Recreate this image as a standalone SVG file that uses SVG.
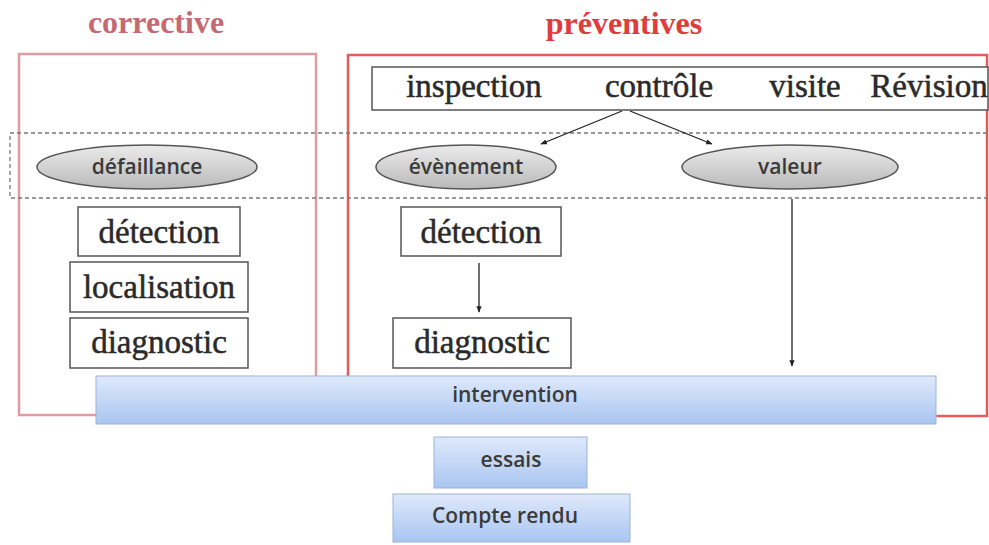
<svg xmlns="http://www.w3.org/2000/svg" width="989" height="545" viewBox="0 0 989 545">
<defs>
<linearGradient id="gEll" x1="0" y1="0" x2="0" y2="1"><stop offset="0" stop-color="#ebebeb"/><stop offset="1" stop-color="#b9b9b9"/></linearGradient>
<linearGradient id="gBlue" x1="0" y1="0" x2="0" y2="1"><stop offset="0" stop-color="#dfe9fb"/><stop offset="1" stop-color="#a9c5f1"/></linearGradient>
<marker id="arr" viewBox="0 0 10 10" refX="9" refY="5" markerWidth="5" markerHeight="5" orient="auto"><path d="M0,1 L10,5 L0,9 z" fill="#222"/></marker>
<style>
.ser{font-family:"Liberation Serif","DejaVu Serif",serif;font-size:33px;fill:#2a2a2a;stroke:#2a2a2a;stroke-width:0.5;text-anchor:middle}
.san{font-family:"Open Sans","Liberation Sans",sans-serif;font-size:21px;font-weight:600;fill:#3a3a3a;text-anchor:middle}
.box{fill:#fff;stroke:#555;stroke-width:1.5}
.ell{fill:url(#gEll);stroke:#555;stroke-width:1.5}
.blue{fill:url(#gBlue);stroke:#9bb3d6;stroke-width:1}
.con{stroke:#222;stroke-width:1.3;fill:none;marker-end:url(#arr)}
.hd{font-family:"Liberation Serif","DejaVu Serif",serif;font-size:32px;font-weight:bold;text-anchor:middle}
</style>
</defs>
<rect width="989" height="545" fill="#fff"/>
<g id="corrective">
<text class="hd" x="156" y="33" fill="#c56a72">corrective</text>
<rect x="19" y="54" width="297" height="361" fill="none" stroke="#e09aa0" stroke-width="2.5"/>
</g>
<g id="preventives">
<text class="hd" x="624" y="34" fill="#e03c3c">préventives</text>
<rect x="348" y="55" width="639" height="361" fill="none" stroke="#e85a5a" stroke-width="2.5"/>
</g>
<g id="methods">
<rect class="box" x="372" y="67" width="616" height="43"/>
<text class="ser" x="474" y="97">inspection</text>
<text class="ser" x="659" y="97">contrôle</text>
<text class="ser" x="805" y="97">visite</text>
<text class="ser" x="929" y="97">Révision</text>
</g>
<g id="band"><rect x="10" y="133" width="985" height="65" fill="none" stroke="#777" stroke-width="1.3" stroke-dasharray="4,3"/></g>
<g id="defaillance"><ellipse class="ell" cx="147" cy="167" rx="110" ry="22"/><text class="san" x="147" y="174">défaillance</text></g>
<g id="evenement"><ellipse class="ell" cx="466" cy="167" rx="90" ry="22"/><text class="san" x="466" y="174">évènement</text></g>
<g id="valeur"><ellipse class="ell" cx="790" cy="167" rx="108" ry="22"/><text class="san" x="790" y="174">valeur</text></g>
<g id="c-detection"><rect class="box" x="78" y="207" width="162" height="49"/><text class="ser" x="159" y="243">détection</text></g>
<g id="c-localisation"><rect class="box" x="70" y="262" width="178" height="50"/><text class="ser" x="159" y="298">localisation</text></g>
<g id="c-diagnostic"><rect class="box" x="70" y="318" width="178" height="50"/><text class="ser" x="159" y="353">diagnostic</text></g>
<g id="p-detection"><rect class="box" x="401" y="207" width="160" height="49"/><text class="ser" x="481" y="243">détection</text></g>
<g id="p-diagnostic"><rect class="box" x="393" y="318" width="178" height="50"/><text class="ser" x="482" y="353">diagnostic</text></g>
<g id="intervention"><rect class="blue" x="96" y="376" width="840" height="48"/><text class="san" x="515" y="402">intervention</text></g>
<g id="essais"><rect class="blue" x="434" y="437" width="153" height="51"/><text class="san" x="511" y="467">essais</text></g>
<g id="compte-rendu"><rect class="blue" x="393" y="494" width="237" height="48"/><text class="san" x="505" y="523">Compte rendu</text></g>
<g id="connectors">
<line class="con" x1="622" y1="111" x2="541" y2="144"/>
<line class="con" x1="630" y1="111" x2="712" y2="144"/>
<line class="con" x1="479" y1="263" x2="479" y2="312"/>
<line class="con" x1="792" y1="199" x2="792" y2="366"/>
</g>
</svg>
